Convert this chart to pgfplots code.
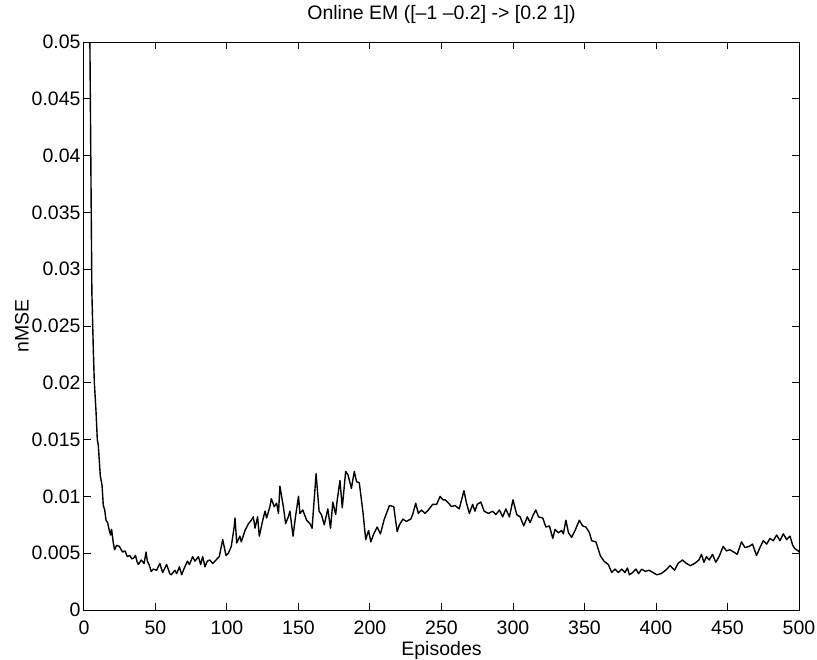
\documentclass[border=0pt]{standalone}
\usepackage{fontspec}
\setmainfont{Liberation Sans}
\usepackage{pgfplots}
\pgfplotsset{compat=1.18}
\usepackage{pgfplotstable}

\pgfplotstableread{
ep    nmse
1     0.090
2     0.075
3     0.062
4     0.052
5     0.036
5.5   0.028
6.5   0.023
7.2   0.0201
8.4   0.0175
9.3   0.0150
10    0.0145
11.4  0.0118
12.6  0.0110
13.5  0.0092
14.5  0.0088
15.4  0.0079
16.5  0.0077
17.7  0.0070
18.6  0.0066
19.3  0.0071
20.5  0.0059
21.4  0.0053
22.8  0.0057
24.7  0.0056
27    0.0051
28.7  0.0052
30.3  0.0047
32    0.0048
33.5  0.0045
35    0.0046
36    0.0048
37    0.0043
38    0.0040
40    0.0044
42    0.0041
43.4  0.0051
44.3  0.0043
45.5  0.0040
47    0.0034
48.5  0.0036
50.8  0.0035
53    0.0041
55    0.0033
57.8  0.0040
60    0.0032
61    0.0031
63.6  0.0035
64.8  0.0032
66.7  0.0038
68.3  0.0031
69.5  0.0035
72.3  0.0043
73.7  0.0040
76    0.0047
77.6  0.0043
80    0.0047
81.6  0.0040
83    0.0047
84.6  0.0038
86.2  0.0043
88    0.0044
90    0.0041
92.3  0.0044
94.6  0.0047
97    0.0062
99.3  0.0048
101   0.0050
103   0.0056
105   0.0073
105.6 0.0081
106.8 0.0059
109   0.0065
110   0.0060
112.6 0.0070
115   0.0076
117   0.0079
118.4 0.0082
119.6 0.0072
121.4 0.0082
122.6 0.0065
125   0.0079
126.6 0.0087
127.7 0.0081
130   0.0091
131   0.0098
133   0.0091
134.7 0.0094
136   0.0085
137   0.0109
139.4 0.0091
141   0.0076
142.9 0.0082
144   0.0087
146.2 0.0065
148   0.0083
150   0.0100
151   0.0085
153   0.0088
155.7 0.0079
158   0.0076
159.5 0.0072
162.3 0.0120
164.4 0.0087
166   0.0084
168   0.0075
170.5 0.0089
172.4 0.0072
174   0.0095
176   0.0084
177   0.0096
179   0.0114
180.6 0.0090
183   0.0122
184.6 0.0119
187   0.0107
189   0.0122
190.6 0.0113
192.5 0.0112
195   0.0087
197   0.0062
199   0.0070
200.6 0.0060
202.6 0.0067
205   0.0073
207.3 0.0067
210   0.0080
213.6 0.0092
216.6 0.0091
219   0.0069
220.6 0.0075
223   0.0080
225.4 0.0078
228.5 0.0080
229.8 0.0084
232   0.0094
233.8 0.0085
236   0.0088
238.5 0.0085
240.8 0.0088
243.8 0.0093
246.6 0.0093
249   0.0100
251   0.0097
252.5 0.0097
255   0.0094
257   0.0091
259.5 0.0092
262.4 0.0089
265.7 0.0105
267.5 0.0094
269.5 0.0085
271.8 0.0093
273.4 0.0087
275   0.0093
277.5 0.0095
279.8 0.0087
282.8 0.0085
285.8 0.0087
288   0.0084
290.5 0.0088
292.8 0.0082
295   0.0089
297.5 0.0082
300   0.0097
302.6 0.0084
305   0.0082
307.5 0.0074
310   0.0082
312   0.0077
314.2 0.0084
316   0.0088
317.8 0.0082
320.8 0.0081
323   0.0073
325.5 0.0074
327.8 0.0063
329.4 0.0071
331.8 0.0068
334   0.0070
335.2 0.0067
337   0.0079
338.8 0.0068
341   0.0064
343.4 0.0070
346.4 0.0079
348.7 0.0074
351   0.0073
353.5 0.0068
355   0.0061
358   0.0060
361   0.0048
363.6 0.0043
366.7 0.0040
369   0.0033
371.3 0.0036
373.6 0.0033
376   0.0036
378.3 0.0033
380   0.0037
381.4 0.0031
383.7 0.0033
386   0.0036
387.8 0.0032
390   0.0036
392.5 0.0034
395   0.0035
398   0.0033
400.4 0.0031
403.6 0.0032
406.7 0.0035
409.8 0.0039
413   0.0035
415.4 0.0041
418.5 0.0044
421.3 0.0041
424   0.0039
427   0.0041
430   0.0044
431.8 0.0049
433.5 0.0042
435.3 0.0047
437.2 0.0044
439.5 0.0049
441.8 0.0042
444.1 0.0047
447   0.0056
449.3 0.0052
451.6 0.0053
454.4 0.0051
456.8 0.0049
459.8 0.0060
462.2 0.0055
465.2 0.0056
467.5 0.0058
470.3 0.0048
472.7 0.0055
475   0.0061
477.4 0.0058
479.7 0.0063
482   0.0061
484.4 0.0066
486.7 0.0061
489   0.0067
491.4 0.0062
493.7 0.0065
495.6 0.0057
497.2 0.0054
499.5 0.0052
500   0.0051
}\nmsedata

\begin{document}
\begin{tikzpicture}
\begin{axis}[
  name=ax,
  at={(0,0)}, anchor=south west,
  scale only axis,
  width=715pt, height=568pt,
  xmin=0, xmax=500,
  ymin=0, ymax=0.05,
  xtick={0,50,...,500},
  ytick={0,0.005,0.01,0.015,0.02,0.025,0.03,0.035,0.04,0.045,0.05},
  yticklabels={0,0.005,0.01,0.015,0.02,0.025,0.03,0.035,0.04,0.045,0.05},
  scaled y ticks=false,
  /pgf/number format/assume math mode=true,
  font=\fontsize{19.5}{23}\selectfont,
  tick align=inside,
  major tick length=7pt,
  axis line style={line width=1pt},
  every tick/.style={line width=1pt, black},
  xticklabel style={anchor=center, yshift=-18pt},
  title={Online EM ([--1 --0.2] -> [0.2 1])},
  title style={at={(axis description cs:0.5,1.0387)}, anchor=center},
  xlabel={Episodes},
  every axis x label/.style={at={(axis description cs:0.5,-0.0704)}, anchor=center},
  ylabel={nMSE},
  every axis y label/.style={at={(axis description cs:-0.0867,0.5)}, anchor=center, rotate=90},
]
\addplot[black, line width=1.4pt, line join=round] table[x=ep, y=nmse] {\nmsedata};
\end{axis}
\pgfresetboundingbox
\path[use as bounding box] (-84pt,-49pt) rectangle (733pt,610pt);
\end{tikzpicture}
\end{document}
